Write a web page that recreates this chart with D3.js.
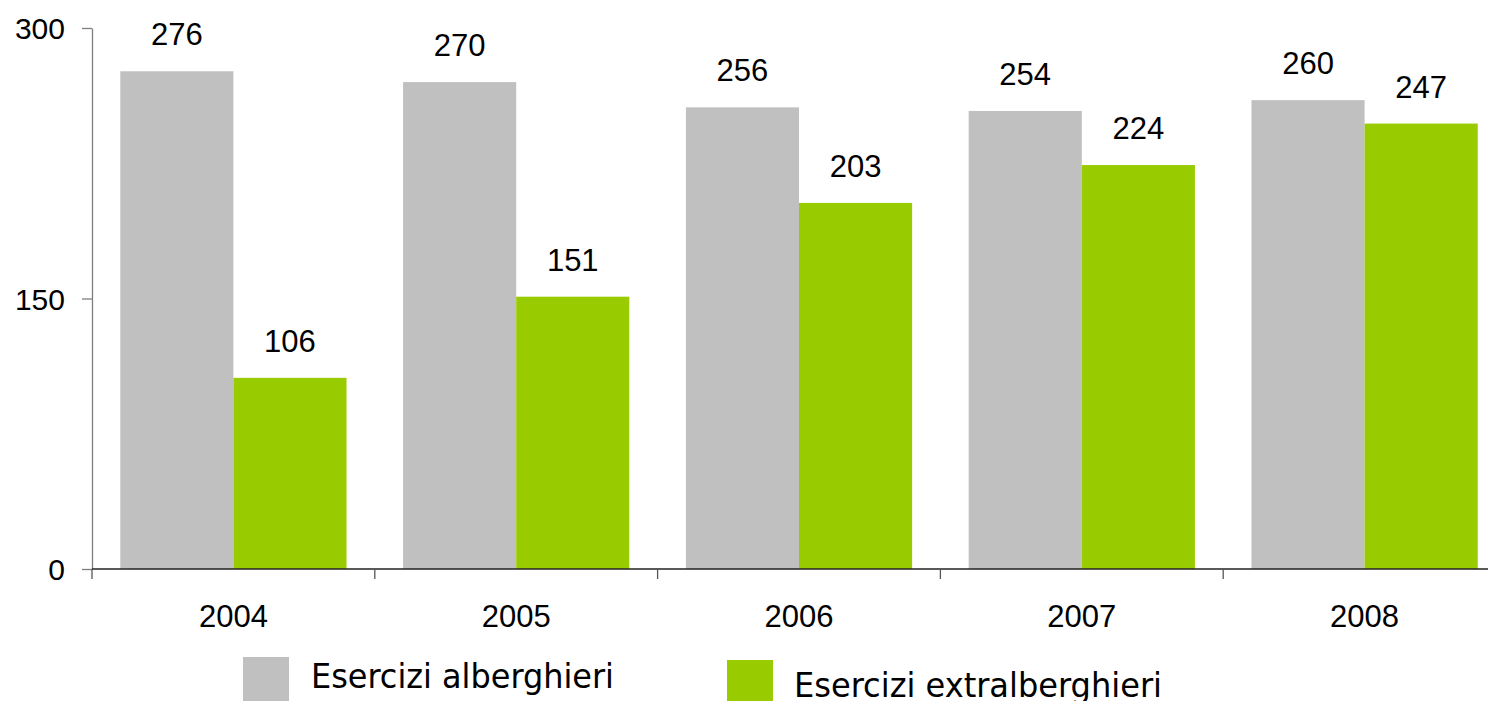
<!DOCTYPE html>
<html>
<head>
<meta charset="utf-8">
<script src="https://cdn.jsdelivr.net/npm/d3@7"></script>
<style>
  html, body { margin: 0; padding: 0; background: #fff; overflow: hidden; }
  svg { display: block; }
</style>
</head>
<body>
<svg id="chart" width="1488" height="701"></svg>
<script>
const categories = ["2004", "2005", "2006", "2007", "2008"];
const seriesNames = ["Esercizi alberghieri", "Esercizi extralberghieri"];
const alberghieri = [276, 270, 256, 254, 260];
const extralberghieri = [106, 151, 203, 224, 247];
const yTicks = [0, 150, 300];
const colors = ["#C0C0C0", "#99CC00"];

const svg = d3.select("#chart");
const numFont = "'Liberation Sans', Arial, sans-serif";
const legFont = "'DejaVu Sans Condensed', 'DejaVu Sans', sans-serif";

const y = d3.scaleLinear().domain([0, 300]).range([569, 28]);
const x = d3.scaleBand().domain(categories).range([92, 1506]).paddingInner(0.2).paddingOuter(0.1);
const xs = d3.scaleBand().domain(seriesNames).range([0, x.bandwidth()]).padding(0);

const data = categories.map((c, i) => ({ cat: c, vals: [alberghieri[i], extralberghieri[i]] }));

// bars
const groups = svg.append("g").selectAll("g").data(data).join("g")
  .attr("transform", d => `translate(${x(d.cat)},0)`);
groups.selectAll("rect").data(d => d.vals.map((v, j) => ({ v, s: seriesNames[j], j })))
  .join("rect")
  .attr("x", d => xs(d.s))
  .attr("width", xs.bandwidth())
  .attr("y", d => y(d.v))
  .attr("height", d => y(0) - y(d.v))
  .attr("fill", d => colors[d.j]);

// value labels
groups.selectAll("text").data(d => d.vals.map((v, j) => ({ v, s: seriesNames[j], j })))
  .join("text")
  .attr("x", d => xs(d.s) + xs.bandwidth() / 2)
  .attr("y", d => y(d.v) - 26)
  .attr("text-anchor", "middle")
  .style("font-family", numFont)
  .style("font-size", "31px")
  .attr("fill", "#000")
  .text(d => d.v);

// y axis
const yAxis = svg.append("g").attr("transform", "translate(92,0)")
  .call(d3.axisLeft(y).tickValues(yTicks).tickSize(10).tickSizeOuter(0).tickPadding(17));
yAxis.select(".domain").attr("stroke", "#7f7f7f").attr("stroke-width", 1.3);
yAxis.selectAll(".tick line").attr("stroke", "#7f7f7f").attr("stroke-width", 1.3);
yAxis.selectAll(".tick text").style("font-family", numFont).style("font-size", "30px").attr("fill", "#000").attr("dy", "0.36em");

// x axis
const xg = svg.append("g");
xg.append("line").attr("x1", 92).attr("x2", 1506).attr("y1", y(0)).attr("y2", y(0))
  .attr("stroke", "#222").attr("stroke-width", 1.3);
const boundaries = categories.map(c => x(c) - x.step() * x.paddingOuter()).concat([x.range()[1]]);
xg.selectAll("line.tk").data(boundaries).join("line").attr("class", "tk")
  .attr("x1", d => d).attr("x2", d => d)
  .attr("y1", y(0)).attr("y2", y(0) + 10)
  .attr("stroke", "#555").attr("stroke-width", 1.3);
xg.selectAll("text").data(categories).join("text")
  .attr("x", d => x(d) + x.bandwidth() / 2)
  .attr("y", y(0) + 58)
  .attr("text-anchor", "middle")
  .style("font-family", numFont)
  .style("font-size", "31px")
  .attr("fill", "#000")
  .text(d => d);

// legend
const legend = [
  { name: seriesNames[0], color: colors[0], rx: 243, ry: 657, tx: 311, ty: 688, w: 303 },
  { name: seriesNames[1], color: colors[1], rx: 727, ry: 660, tx: 794, ty: 697, w: 368 }
];
const lg = svg.append("g");
legend.forEach(l => {
  lg.append("rect").attr("x", l.rx).attr("y", l.ry).attr("width", 46).attr("height", 46).attr("fill", l.color);
  lg.append("text").attr("x", l.tx).attr("y", l.ty)
    .style("font-family", legFont).style("font-size", "33px").attr("fill", "#000")
    .attr("textLength", l.w).attr("lengthAdjust", "spacingAndGlyphs")
    .text(l.name);
});
</script>
</body>
</html>
